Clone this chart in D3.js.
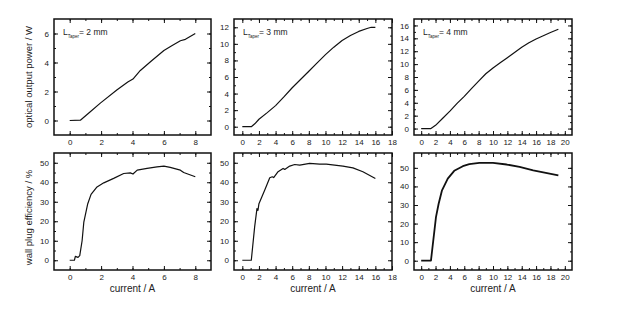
<!DOCTYPE html>
<html>
<head>
<meta charset="utf-8">
<style>
  body { margin: 0; background: #fff; }
  svg { display: block; font-family: "Liberation Sans", Arial, sans-serif; }
  .tick text { fill: #222; font-size: 8px; }
  .domain { display: none; }
  .tick line { stroke: #111; stroke-width: 1; }
</style>
</head>
<body>
<svg width="621" height="322"></svg>
<script src="https://d3js.org/d3.v7.min.js"></script>
<script>
  // data: [current A, value]
  const power2mm = [[0,0],[0.68,0.02],[1.2,0.5],[1.95,1.2],[3.0,2.1],[3.7,2.65],[4.03,2.86],[4.5,3.45],[5.2,4.1],[6.0,4.83],[6.5,5.15],[7.05,5.5],[7.37,5.6],[8,6]];
  const power3mm = [[0,0],[1.08,0],[1.5,0.35],[2,0.9],[3,1.7],[4,2.55],[5,3.6],[6,4.7],[7,5.7],[8,6.7],[9,7.7],[10,8.7],[11,9.6],[12,10.4],[13,11.0],[14,11.5],[15,11.85],[15.5,12],[16,12]];
  const power4mm = [[0,0],[1.36,0],[2,0.5],[3,1.6],[4,2.7],[5,3.9],[6,5.0],[7,6.2],[8,7.35],[9,8.5],[10,9.4],[11,10.2],[12,11.0],[13,11.8],[14,12.6],[15,13.3],[16,13.9],[17,14.4],[18,14.9],[19.1,15.4]];
  const wpe2mm = [[0,0],[0.3,0],[0.36,2],[0.53,1.5],[0.64,2.4],[0.79,10],[0.9,19.6],[1.15,29],[1.36,33.8],[1.74,37.6],[2.17,39.7],[2.8,42],[3.44,44.5],[3.86,44.8],[4.03,44.2],[4.3,46.2],[4.93,47.1],[5.56,47.9],[6,48.3],[6.4,47.6],[7.05,46.2],[7.26,45],[8,42.8]];
  const wpe3mm = [[0,0],[1.08,0],[1.48,17],[1.76,26.5],[1.88,25.6],[2,29],[2.7,36],[3.3,42.3],[3.6,42.8],[3.77,42.4],[4.3,45.4],[4.9,47.1],[5.1,46.6],[5.7,48.3],[6.3,49.1],[6.9,48.8],[8.1,49.7],[9.3,49.3],[10.1,49.3],[12.1,48.3],[13.3,47.4],[14.5,45.4],[16,41.9]];
  const wpe4mm = [[0,0],[1.36,0],[2.06,23.5],[2.43,30.7],[2.9,37.9],[3.7,44.2],[4.6,48.4],[5.8,50.9],[6.7,52],[8.1,52.7],[10,52.7],[11.9,51.8],[13.7,50.5],[15.6,48.7],[19.1,46]];

  const taperLengths = ["2 mm", "3 mm", "4 mm"];
  const xDomains = [[-1, 9], [-1, 18], [-1, 21]];
  const xMax = [8, 18, 20];
  const powerDomains = [[-1, 7], [-1, 13], [-1, 17]];
  const powerMax = [6, 12, 16];
  const wpeDomains = [[-5, 55], [-5, 55], [-5, 58]];

  const svg = d3.select("svg");
  svg.append("rect").attr("width", 621).attr("height", 322).attr("fill", "#fff");

  const cols = [[54, 211], [234, 392], [414, 572]];
  const rows = [[19, 135], [153, 270]];

  function evenTicks(lo, hi, step) {
    return d3.range(lo, hi + 0.001, step);
  }

  function panel(col, row, data, xDom, yDom, xMaj, yStep, yMax, lw) {
    const [x0, x1] = cols[col];
    const [y0, y1] = rows[row];
    const x = d3.scaleLinear().domain(xDom).range([x0, x1]);
    const y = d3.scaleLinear().domain(yDom).range([y1, y0]);
    const g = svg.append("g");

    const xMinorT = evenTicks(0, xMaj, 1);
    const xMajorT = evenTicks(0, xMaj, 2);
    const yMinorT = evenTicks(0, yMax, yStep / 2);
    const yMajorT = evenTicks(0, yMax, yStep);

    // minor ticks all round
    g.append("g").attr("transform", `translate(0,${y1})`)
      .call(d3.axisBottom(x).tickValues(xMinorT).tickSize(-2).tickFormat(""));
    g.append("g").attr("transform", `translate(0,${y0})`)
      .call(d3.axisTop(x).tickValues(xMinorT).tickSize(-2).tickFormat(""));
    g.append("g").attr("transform", `translate(${x0},0)`)
      .call(d3.axisLeft(y).tickValues(yMinorT).tickSize(-2).tickFormat(""));
    g.append("g").attr("transform", `translate(${x1},0)`)
      .call(d3.axisRight(y).tickValues(yMinorT).tickSize(-2).tickFormat(""));
    // major ticks, labels on bottom and left
    g.append("g").attr("transform", `translate(0,${y1})`)
      .call(d3.axisBottom(x).tickValues(xMajorT).tickSize(-4).tickPadding(4));
    g.append("g").attr("transform", `translate(0,${y0})`)
      .call(d3.axisTop(x).tickValues(xMajorT).tickSize(-4).tickFormat(""));
    g.append("g").attr("transform", `translate(${x0},0)`)
      .call(d3.axisLeft(y).tickValues(yMajorT).tickSize(-4).tickPadding(5));
    g.append("g").attr("transform", `translate(${x1},0)`)
      .call(d3.axisRight(y).tickValues(yMajorT).tickSize(-4).tickFormat(""));

    g.append("rect")
      .attr("x", x0).attr("y", y0)
      .attr("width", x1 - x0).attr("height", y1 - y0)
      .attr("fill", "none").attr("stroke", "#111").attr("stroke-width", 1.5);

    g.append("path")
      .datum(data)
      .attr("fill", "none")
      .attr("stroke", "#111")
      .attr("stroke-width", lw)
      .attr("stroke-linejoin", "round")
      .attr("d", d3.line().x(d => x(d[0])).y(d => y(d[1])));

    return { x, y, g };
  }

  const powers = [power2mm, power3mm, power4mm];
  const wpes = [wpe2mm, wpe3mm, wpe4mm];

  for (let i = 0; i < 3; i++) {
    const top = panel(i, 0, powers[i], xDomains[i], powerDomains[i], xMax[i], 2, powerMax[i], 1.2);
    const label = top.g.append("text")
      .attr("x", cols[i][0] + 9)
      .attr("y", 35)
      .attr("fill", "#222")
      .attr("font-size", 8.5);
    label.append("tspan").text("L");
    label.append("tspan").attr("font-size", 4.5).attr("dy", 3).text("Taper");
    label.append("tspan").attr("dy", -3).text("= " + taperLengths[i]);

    panel(i, 1, wpes[i], xDomains[i], wpeDomains[i], xMax[i], 10, 50, i === 2 ? 1.8 : 1.2);

    svg.append("text")
      .attr("x", (cols[i][0] + cols[i][1]) / 2)
      .attr("y", 292)
      .attr("text-anchor", "middle")
      .attr("font-size", 10)
      .attr("fill", "#222")
      .text("current / A");
  }

  svg.append("text")
    .attr("transform", `translate(32,${(rows[0][0] + rows[0][1]) / 2}) rotate(-90)`)
    .attr("text-anchor", "middle")
    .attr("font-size", 9.5)
    .attr("fill", "#222")
    .text("optical output power / W");
  svg.append("text")
    .attr("transform", `translate(32,${(rows[1][0] + rows[1][1]) / 2 + 6}) rotate(-90)`)
    .attr("text-anchor", "middle")
    .attr("font-size", 9.5)
    .attr("fill", "#222")
    .text("wall plug efficiency / %");
</script>
</body>
</html>
